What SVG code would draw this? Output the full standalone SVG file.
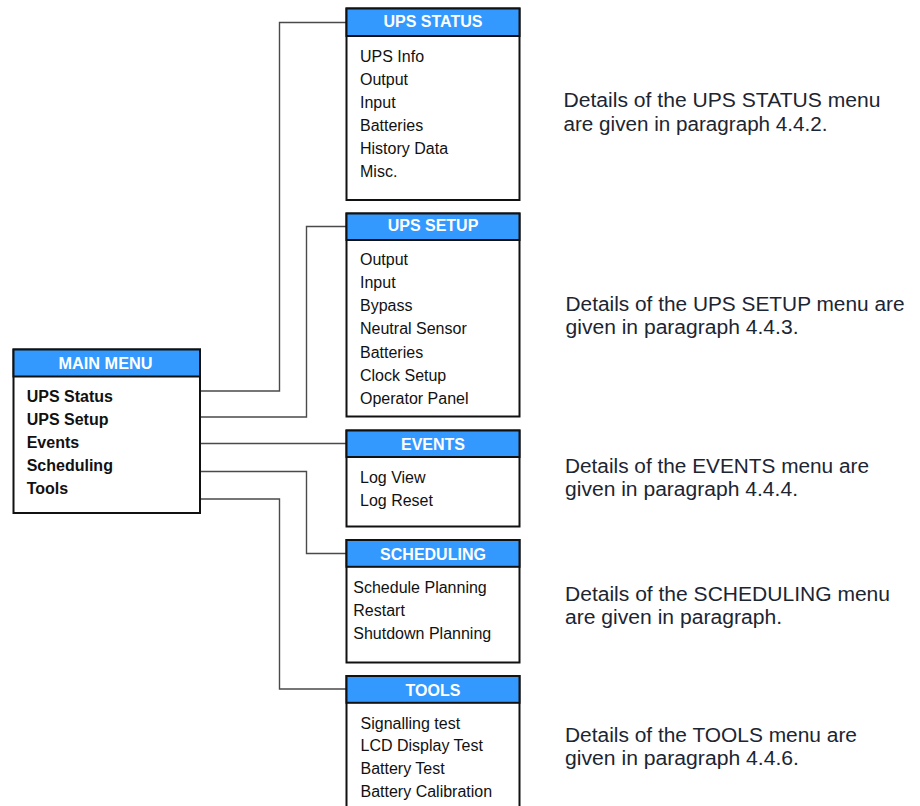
<svg xmlns="http://www.w3.org/2000/svg" width="920" height="806" viewBox="0 0 920 806">
<style>
.box{fill:#fff;stroke:#111;stroke-width:2}
.hdr{fill:#3399ff;stroke:#111;stroke-width:2}
.ht{font-family:"Liberation Sans",Arial,sans-serif;font-size:16px;font-weight:bold;fill:#fff;text-anchor:middle}
.it{font-family:"Liberation Sans",Arial,sans-serif;font-size:16px;fill:#111}
.mi{font-family:"Liberation Sans",Arial,sans-serif;font-size:16px;font-weight:bold;fill:#111}
.note{font-family:"Liberation Sans",Arial,sans-serif;font-size:19.5px;fill:#1c2532}
.conn{fill:none;stroke:#4a4a4a;stroke-width:1.4}
</style>
<rect width="920" height="806" fill="#fff"/>
<g id="connectors">
<path class="conn" d="M200,391 H279.5 V22.5 H346.5"/>
<path class="conn" d="M200,417 H306.5 V226.5 H346.5"/>
<path class="conn" d="M200,443.5 H346.5"/>
<path class="conn" d="M200,471.5 H306.5 V553.5 H346.5"/>
<path class="conn" d="M200,499 H279.5 V689 H346.5"/>
</g>
<g id="main-menu">
<rect class="box" x="13.5" y="349.5" width="186.5" height="163.5"/>
<rect class="hdr" x="13.5" y="349.5" width="186.5" height="27"/>
<text class="ht" x="105.5" y="369" textLength="94" lengthAdjust="spacingAndGlyphs">MAIN MENU</text>
<text class="mi" x="26.7" y="401.5">UPS Status</text>
<text class="mi" x="26.7" y="424.5">UPS Setup</text>
<text class="mi" x="26.7" y="447.5">Events</text>
<text class="mi" x="26.7" y="470.5">Scheduling</text>
<text class="mi" x="26.7" y="493.5">Tools</text>
</g>
<g id="ups-status">
<rect class="box" x="346.5" y="8.5" width="173" height="191.5"/>
<rect class="hdr" x="346.5" y="8.5" width="173" height="27.5"/>
<text class="ht" x="433" y="27">UPS STATUS</text>
<text class="it" x="360" y="61.7">UPS Info</text>
<text class="it" x="360" y="84.5">Output</text>
<text class="it" x="360" y="107.5">Input</text>
<text class="it" x="360" y="130.5">Batteries</text>
<text class="it" x="360" y="153.5">History Data</text>
<text class="it" x="360" y="176.5">Misc.</text>
</g>
<g id="ups-setup">
<rect class="box" x="346.5" y="213.5" width="173" height="203"/>
<rect class="hdr" x="346.5" y="213.5" width="173" height="26.5"/>
<text class="ht" x="433" y="231">UPS SETUP</text>
<text class="it" x="360" y="264.5">Output</text>
<text class="it" x="360" y="288">Input</text>
<text class="it" x="360" y="311">Bypass</text>
<text class="it" x="360" y="334.3">Neutral Sensor</text>
<text class="it" x="360" y="357.5">Batteries</text>
<text class="it" x="360" y="380.5">Clock Setup</text>
<text class="it" x="360" y="403.5">Operator Panel</text>
</g>
<g id="events">
<rect class="box" x="346.5" y="430.5" width="173" height="96"/>
<rect class="hdr" x="346.5" y="430.5" width="173" height="26.5"/>
<text class="ht" x="433" y="450">EVENTS</text>
<text class="it" x="360" y="483.3">Log View</text>
<text class="it" x="360" y="506">Log Reset</text>
</g>
<g id="scheduling">
<rect class="box" x="346.5" y="540" width="173" height="122.5"/>
<rect class="hdr" x="346.5" y="540" width="173" height="26.8"/>
<text class="ht" x="433" y="559.5">SCHEDULING</text>
<text class="it" x="353.3" y="592.7">Schedule Planning</text>
<text class="it" x="353.3" y="615.5">Restart</text>
<text class="it" x="353.3" y="638.5">Shutdown Planning</text>
</g>
<g id="tools">
<rect class="box" x="346.5" y="676" width="173" height="150"/>
<rect class="hdr" x="346.5" y="676" width="173" height="26.8"/>
<text class="ht" x="433" y="695.7">TOOLS</text>
<text class="it" x="360.5" y="728.5">Signalling test</text>
<text class="it" x="360.5" y="751">LCD Display Test</text>
<text class="it" x="360.5" y="774">Battery Test</text>
<text class="it" x="360.5" y="797">Battery Calibration</text>
</g>
<g id="notes">
<text class="note" x="563.5" y="107" textLength="317" lengthAdjust="spacingAndGlyphs">Details of the UPS STATUS menu</text>
<text class="note" x="563.5" y="130.5" textLength="264" lengthAdjust="spacingAndGlyphs">are given in paragraph 4.4.2.</text>
<text class="note" x="565.5" y="310.5" textLength="339" lengthAdjust="spacingAndGlyphs">Details of the UPS SETUP menu are</text>
<text class="note" x="565.5" y="333.5" textLength="233" lengthAdjust="spacingAndGlyphs">given in paragraph 4.4.3.</text>
<text class="note" x="565" y="473.3" textLength="304" lengthAdjust="spacingAndGlyphs">Details of the EVENTS menu are</text>
<text class="note" x="565" y="496" textLength="233" lengthAdjust="spacingAndGlyphs">given in paragraph 4.4.4.</text>
<text class="note" x="565" y="601" textLength="325" lengthAdjust="spacingAndGlyphs">Details of the SCHEDULING menu</text>
<text class="note" x="565" y="624.3" textLength="217" lengthAdjust="spacingAndGlyphs">are given in paragraph.</text>
<text class="note" x="565" y="741.7" textLength="292" lengthAdjust="spacingAndGlyphs">Details of the TOOLS menu are</text>
<text class="note" x="565" y="765" textLength="234" lengthAdjust="spacingAndGlyphs">given in paragraph 4.4.6.</text>
</g>
</svg>
